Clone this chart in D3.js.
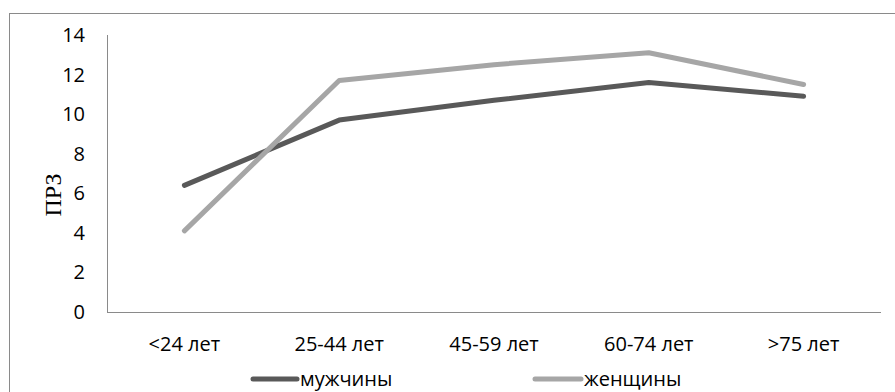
<!DOCTYPE html>
<html>
<head>
<meta charset="utf-8">
<script src="https://cdn.jsdelivr.net/npm/d3@7"></script>
<style>
  html, body { margin: 0; padding: 0; background: #fff; }
  svg { display: block; }
</style>
</head>
<body>
<svg id="chart" width="895" height="392"></svg>
<script>
// Age groups and ПРЗ values by sex
const categories = ["<24 лет", "25-44 лет", "45-59 лет", "60-74 лет", ">75 лет"];
const men   = [6.4, 9.7, 10.7, 11.6, 10.9];
const women = [4.1, 11.7, 12.5, 13.1, 11.5];
const yTicks = [0, 2, 4, 6, 8, 10, 12, 14];
const seriesNames = ["мужчины", "женщины"];
const seriesColors = ["#595959", "#a6a6a6"];

const svg = d3.select("#chart");
const labelFont = "'Open Sans', 'Noto Sans', sans-serif";
const labelSize = 20;

// Outer chart frame
svg.append("rect")
  .attr("x", 9.5).attr("y", 13.5)
  .attr("width", 900).attr("height", 400)
  .attr("fill", "none").attr("stroke", "#8a8a8a").attr("stroke-width", 1);

const plot = { left: 107, right: 881, top: 35, bottom: 312 };

const x = d3.scalePoint().domain(categories)
  .range([plot.left, plot.right]).padding(0.5);
const y = d3.scaleLinear().domain([0, 14]).range([plot.bottom, plot.top]);

// Axis lines
svg.append("line")
  .attr("x1", plot.left + 0.5).attr("x2", plot.left + 0.5)
  .attr("y1", plot.top).attr("y2", plot.bottom)
  .attr("stroke", "#8a8a8a");
svg.append("line")
  .attr("x1", plot.left).attr("x2", plot.right)
  .attr("y1", plot.bottom + 0.5).attr("y2", plot.bottom + 0.5)
  .attr("stroke", "#8a8a8a");

// Y tick labels
svg.append("g").selectAll("text").data(yTicks).join("text")
  .attr("x", 85).attr("y", d => y(d))
  .attr("dy", "0.35em")
  .attr("text-anchor", "end")
  .attr("font-family", labelFont).attr("font-size", labelSize)
  .attr("fill", "#000")
  .text(d => d);

// Category labels
svg.append("g").selectAll("text").data(categories).join("text")
  .attr("x", d => x(d)).attr("y", 344)
  .attr("dy", "0.35em")
  .attr("text-anchor", "middle")
  .attr("font-family", labelFont).attr("font-size", labelSize)
  .attr("fill", "#000")
  .text(d => d);

// Y axis title
svg.append("text")
  .attr("transform", "translate(53,195) rotate(-90)")
  .attr("text-anchor", "middle").attr("dy", "0.35em")
  .attr("font-family", "'Liberation Serif', 'Times New Roman', serif")
  .attr("font-size", 24).attr("fill", "#000")
  .text("ПРЗ");

// Series lines
const line = d3.line()
  .x((d, i) => x(categories[i]))
  .y(d => y(d));

[men, women].forEach((vals, k) => {
  svg.append("path")
    .datum(vals)
    .attr("d", line)
    .attr("fill", "none")
    .attr("stroke", seriesColors[k])
    .attr("stroke-width", 5)
    .attr("stroke-linecap", "round")
    .attr("stroke-linejoin", "round");
});

// Legend
const legendItems = [
  { x1: 253, x2: 297, tx: 300 },
  { x1: 535, x2: 581, tx: 584 }
];
legendItems.forEach((it, k) => {
  svg.append("line")
    .attr("x1", it.x1).attr("x2", it.x2)
    .attr("y1", 379).attr("y2", 379)
    .attr("stroke", seriesColors[k]).attr("stroke-width", 5)
    .attr("stroke-linecap", "round");
  svg.append("text")
    .attr("x", it.tx).attr("y", 379)
    .attr("dy", "0.35em")
    .attr("font-family", labelFont).attr("font-size", labelSize)
    .attr("fill", "#000")
    .text(seriesNames[k]);
});
</script>
</body>
</html>
